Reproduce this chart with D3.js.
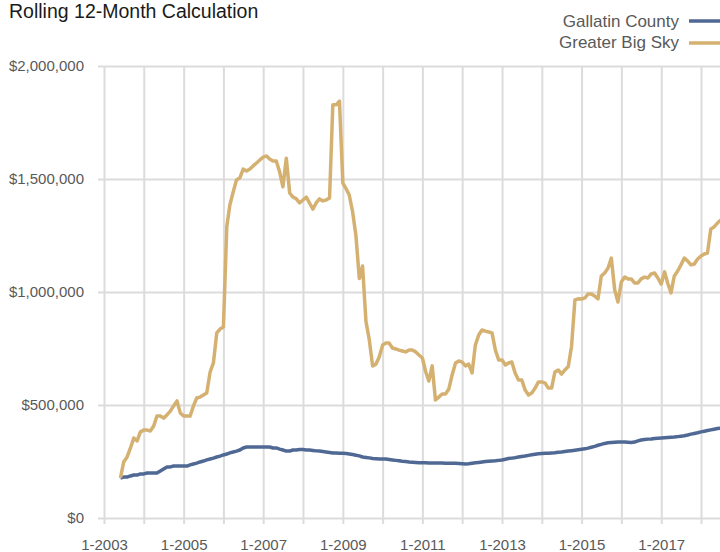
<!DOCTYPE html>
<html>
<head>
<meta charset="utf-8">
<script src="https://cdn.jsdelivr.net/npm/d3@7"></script>
<style>
  body { margin: 0; background: #fff; }
  svg { display: block; font-family: "Liberation Sans", Arial, sans-serif; }
</style>
</head>
<body>
<div class="container"></div>
<script>
// Chart size
const width = 720;
const height = 552;

// Monthly rolling 12-month values in $ thousands, starting June 2003
const firstMonth = new Date(2003, 5, 1);

const gallatin = [
  177, 181, 181, 186, 190, 190, 195,
  195, 199, 199, 199, 199, 208, 217, 226, 226, 230, 230, 230,
  230, 230, 235, 239, 243, 248, 252, 257, 261, 265, 270, 274,
  279, 283, 288, 292, 296, 301, 310, 314, 314, 314, 314, 314,
  314, 314, 314, 310, 310, 305, 301, 296, 296, 301, 301, 303,
  303, 301, 301, 299, 297, 296, 294, 292, 290, 288, 288, 287,
  286, 285, 283, 281, 278, 275, 270, 268, 266, 263, 262, 261,
  261, 261, 259, 257, 255, 253, 251, 250, 248, 247, 246, 245,
  244, 244, 243, 243, 243, 243, 243, 242, 242, 242, 242, 241,
  240, 239, 240, 242, 244, 246, 248, 250, 251, 252, 253, 255,
  257, 260, 263, 265, 267, 270, 272, 274, 277, 280, 282, 284,
  285, 286, 287, 288, 289, 291, 292, 294, 296, 298, 300, 302,
  304, 306, 309, 313, 317, 322, 326, 330, 333, 334, 335, 336,
  336, 336, 335, 334, 336, 341, 345, 347, 349, 350, 352, 353,
  354, 355, 356, 357, 358, 360, 362, 364, 367, 371, 374, 377,
  381, 384, 387, 390, 393, 396, 398
];

const bigSky = [
  177, 248, 270, 310, 354, 341, 381,
  389, 389, 385, 407, 451, 451, 442, 456, 473, 496, 518, 465,
  451, 451, 451, 496, 531, 535, 544, 553, 646, 686, 819, 836,
  845, 1290, 1385, 1443, 1496, 1505, 1544, 1535, 1544, 1558, 1571, 1584,
  1597, 1602, 1589, 1580, 1580, 1531, 1465, 1592, 1438, 1420, 1412, 1394,
  1407, 1420, 1394, 1367, 1394, 1412, 1403, 1407, 1416, 1828, 1828, 1845,
  1482, 1456, 1429, 1354, 1250, 1060, 1115, 870, 788, 673, 681, 712,
  765, 774, 774, 752, 748, 743, 739, 735, 743, 743, 735, 721,
  708, 646, 606, 673, 522, 535, 549, 549, 571, 633, 686, 695,
  690, 673, 681, 642, 765, 810, 832, 827, 823, 819, 743, 699,
  699, 677, 686, 690, 642, 611, 611, 566, 544, 553, 575, 602,
  602, 597, 575, 575, 646, 655, 637, 655, 670, 760, 965, 970,
  969, 974, 991, 991, 982, 970, 1071, 1084, 1106, 1150, 1009, 956,
  1044, 1066, 1058, 1058, 1040, 1040, 1058, 1066, 1062, 1080, 1084, 1062,
  1035, 1089, 1040, 996, 1071, 1093, 1120, 1150, 1137, 1120, 1124, 1146,
  1159, 1168, 1172, 1279, 1288, 1305, 1319
];

const seriesNames = ["Gallatin County", "Greater Big Sky"];
const seriesColors = ["#4f6994", "#d4b171"];
const yTicks = [0, 500000, 1000000, 1500000, 2000000];

const months = gallatin.map((d, i) => d3.timeMonth.offset(firstMonth, i));

// Scales
const x = d3.scaleTime()
    .domain([new Date(2003, 0, 1), new Date(2018, 0, 1)])
    .range([104, 701]);

const y = d3.scaleLinear()
    .domain([0, 2000000])
    .range([518, 66]);

const svg = d3.select(".container").append("svg")
    .attr("width", width)
    .attr("height", height);

// Horizontal grid + y labels
const yAxis = svg.append("g")
    .attr("transform", "translate(104,0)")
    .call(d3.axisLeft(y).tickValues(yTicks).tickSize(0)
      .tickFormat(d => "$" + d3.format(",")(d)));
yAxis.select(".domain").remove();
yAxis.selectAll(".tick line")
    .attr("x1", -6)
    .attr("x2", width - 104)
    .attr("stroke", "#dcdcdc")
    .attr("stroke-width", 2);
yAxis.selectAll(".tick text")
    .attr("x", -20)
    .attr("fill", "#595959")
    .attr("font-size", 15);

// Vertical grid + x labels (every other year)
const xAxis = svg.append("g")
    .attr("transform", "translate(0,518)")
    .call(d3.axisBottom(x).ticks(d3.timeYear.every(1)).tickSize(0)
      .tickFormat(d => d.getFullYear() % 2 ? "1-" + d.getFullYear() : ""));
xAxis.select(".domain").remove();
xAxis.selectAll(".tick line")
    .attr("y1", 66 - 518)
    .attr("y2", 6)
    .attr("stroke", "#dcdcdc")
    .attr("stroke-width", 2);
xAxis.selectAll(".tick text")
    .attr("y", 21)
    .attr("fill", "#595959")
    .attr("font-size", 15);

// Lines
const line = d3.line()
    .x((d, i) => x(months[i]))
    .y(d => y(d * 1000));

[gallatin, bigSky].forEach(function(s, k) {
  svg.append("path")
      .datum(s)
      .attr("fill", "none")
      .attr("stroke", seriesColors[k])
      .attr("stroke-width", 3.5)
      .attr("stroke-linejoin", "round")
      .attr("d", line);
});

// Title
svg.append("text")
    .attr("x", 9)
    .attr("y", 18)
    .attr("fill", "#1a1a1a")
    .attr("font-size", 19.5)
    .text("Rolling 12-Month Calculation");

// Legend
const legend = svg.append("g");
seriesNames.forEach(function(name, k) {
  legend.append("text")
      .attr("x", 679)
      .attr("y", 27 + k * 21)
      .attr("text-anchor", "end")
      .attr("fill", "#595959")
      .attr("font-size", 17)
      .text(name);
  legend.append("line")
      .attr("x1", 689)
      .attr("x2", 720)
      .attr("y1", 21 + k * 22)
      .attr("y2", 21 + k * 22)
      .attr("stroke", seriesColors[k])
      .attr("stroke-width", 3.5);
});
</script>
</body>
</html>
